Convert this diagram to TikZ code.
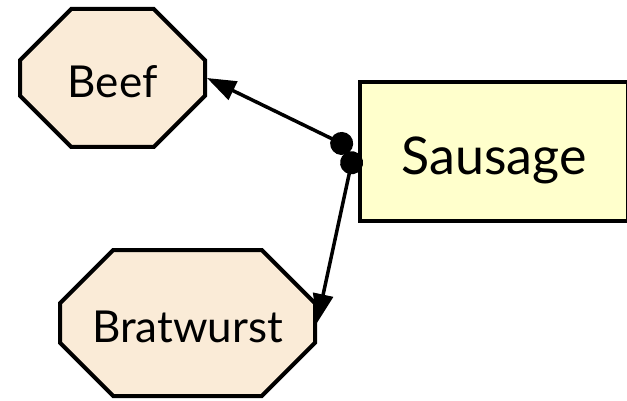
\documentclass[tikz,border=0pt]{standalone}
\usepackage{fontspec}
\setmainfont{Lato}
\usetikzlibrary{shapes.misc,arrows.meta,calc}
\definecolor{meat}{HTML}{FAEBD7}
\definecolor{sausagefill}{HTML}{FFFFCC}
\begin{document}
\begin{tikzpicture}[x=1pt,y=-1pt,
  octo/.style={chamfered rectangle, draw=black, line width=4pt, fill=meat,
    inner sep=0pt, text height=38.5pt, text depth=0pt, font=\fontsize{44}{50}\selectfont},
  box/.style={rectangle, draw=black, line width=4pt, fill=sausagefill,
    inner sep=0pt, text height=45.5pt, text depth=0pt, font=\fontsize{52}{58}\selectfont},
  link/.style={line width=3.5pt, {Circle[length=23pt]}-{Triangle[length=29pt,width=20pt]}}]
\useasboundingbox (0,0) rectangle (627,401);
\node[octo, minimum width=185pt, minimum height=138pt,
  chamfered rectangle xsep=32pt, chamfered rectangle ysep=32pt] (beef) at (112.5,78) {Beef};
\node[octo, minimum width=255pt, minimum height=146pt,
  chamfered rectangle xsep=34pt, chamfered rectangle ysep=34pt] (brat) at (187.5,323) {Bratwurst};
\node[box, minimum width=268pt, minimum height=139pt] (sausage) at (494,151.5) {Sausage};
\coordinate (s1) at ($(sausage.west)+(-6,-3)$);
\coordinate (s2) at ($(sausage.west)+(-4,0)$);
\draw[link] (s1) -- (beef.east);
\draw[link] (s2) -- (brat.east);
\end{tikzpicture}
\end{document}
